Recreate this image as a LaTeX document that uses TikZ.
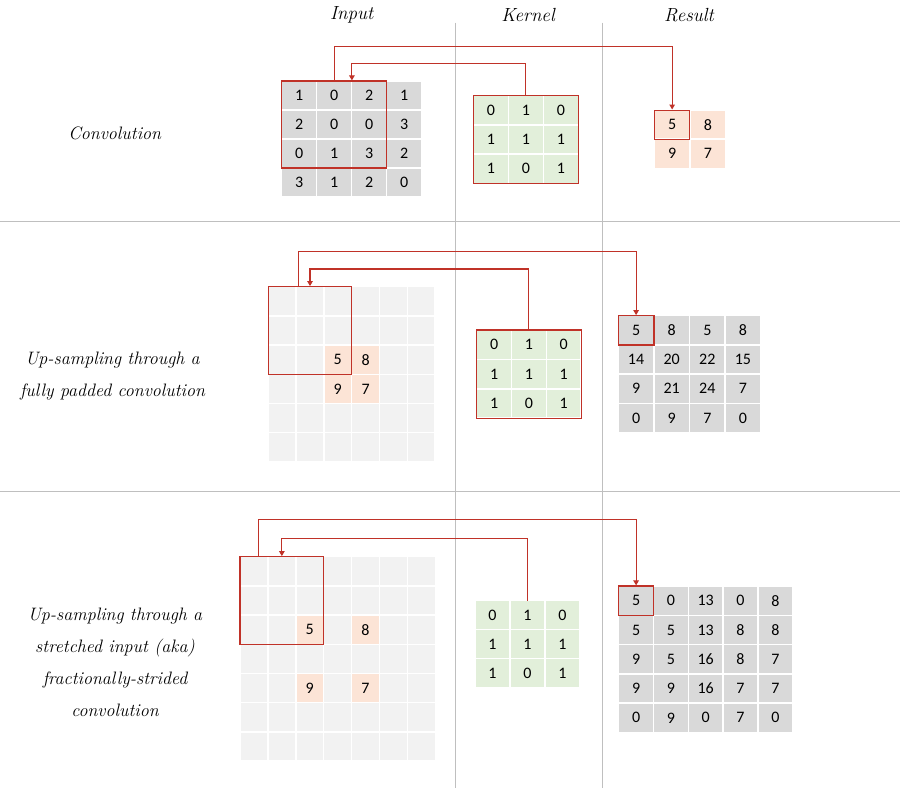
\documentclass[tikz,border=0pt]{standalone}
\usepackage{fontspec}
\newfontfamily\cellfont{Carlito}
\usetikzlibrary{arrows.meta,calc,fit}
\definecolor{ingray}{RGB}{217,217,217}
\definecolor{padgray}{RGB}{242,242,242}
\definecolor{kerngreen}{RGB}{226,239,218}
\definecolor{uporange}{RGB}{252,228,214}
\definecolor{convred}{RGB}{192,50,40}
\definecolor{sepgray}{RGB}{191,191,191}
\tikzset{
  cell/.style={rectangle,draw=white,line width=1.5pt,inner sep=0pt,outer sep=0pt,
    minimum width=35pt,minimum height=29pt,font=\cellfont\fontsize{16}{19}\selectfont},
  incell/.style={cell,fill=ingray},
  padcell/.style={cell,fill=padgray,minimum width=27.8pt,minimum height=29.2pt},
  upcell/.style={cell,fill=uporange,minimum width=27.8pt,minimum height=29.2pt},
  kerncell/.style={cell,fill=kerngreen},
  rescell/.style={cell,fill=uporange},
  window/.style={rectangle,draw=convred,line width=1.2pt,inner sep=0pt},
  conn/.style={draw=convred,line width=1.1pt,->},
  sep/.style={draw=sepgray,line width=0.9pt},
  caption/.style={font=\itshape\fontsize{18}{32}\selectfont,align=center},
  header/.style={font=\itshape\fontsize{19}{23}\selectfont}
}
\begin{document}
\begin{tikzpicture}[x=1pt,y=-1pt,>={Triangle[length=5pt,width=5.5pt]}]
\useasboundingbox (0,0) rectangle (900,788);
% separators
\draw[sep] (0,221.3) -- (900,221.3);
\draw[sep] (0,491.3) -- (900,491.3);
\draw[sep] (455.7,22.7) -- (455.7,788);
\draw[sep] (602.7,22.7) -- (602.7,788);
% headers
\node[header] (hinput) at (351.7,15) {Input};
\node[header] (hkernel) at (528,15) {Kernel};
\node[header] (hresult) at (689,15) {Result};
% row labels
\node[caption] (lconv) at (114.7,133) {Convolution};
\node[caption] (lfull) at (112.5,376) {Up-sampling through a\\fully padded convolution};
\node[caption] (lfrac) at (115,662.5) {Up-sampling through a\\stretched input (aka)\\fractionally-strided\\convolution};
% --- convolution
\foreach \row [count=\r] in {{1,0,2,1},{2,0,0,3},{0,1,3,2},{3,1,2,0}}
  \foreach \v [count=\c] in \row
    \node[incell] (in1-\r-\c) at ({281.7+(\c-0.5)*35},{81+(\r-0.5)*29}) {\v};
\foreach \row [count=\r] in {{0,1,0},{1,1,1},{1,0,1}}
  \foreach \v [count=\c] in \row
    \node[kerncell,minimum height=29.2pt] (ke1-\r-\c) at ({473.3+(\c-0.5)*35},{95.7+(\r-0.5)*29.2}) {\v};
\foreach \row [count=\r] in {{5,8},{9,7}}
  \foreach \v [count=\c] in \row
    \node[rescell] (re1-\r-\c) at ({654.3+(\c-0.5)*35.7},{110+(\r-0.5)*29.2}) {\v};
\node[window,fit=(in1-1-1)(in1-3-3)] (win1) {};
\node[window,fit=(ke1-1-1)(ke1-3-3)] (kbox1) {};
\node[window,fit=(re1-1-1)] (rwin1) {};
\coordinate (lvo1) at (0,46.7);
\coordinate (lvi1) at (0,63.3);
\coordinate (tgt1) at ($(win1.north west)!2/3!(win1.north east)$);
\draw[conn] (win1.north) -- (win1.north |- lvo1) -| (rwin1.north);
\draw[conn] (kbox1.north) -- (kbox1.north |- lvi1) -| (tgt1);
% --- fully padded
\foreach \r in {1,...,6}
  \foreach \c in {1,...,6}
    \node[padcell] (in2-\r-\c) at ({268.3+(\c-0.5)*27.8},{286.7+(\r-0.5)*29.2}) {};
\foreach \v/\r/\c in {5/3/3,8/3/4,9/4/3,7/4/4}
  \node[upcell] (up2-\r-\c) at ({268.3+(\c-0.5)*27.8},{286.7+(\r-0.5)*29.2}) {\v};
\foreach \row [count=\r] in {{0,1,0},{1,1,1},{1,0,1}}
  \foreach \v [count=\c] in \row
    \node[kerncell,minimum width=34.8pt,minimum height=29.4pt] (ke2-\r-\c) at ({476.7+(\c-0.5)*34.8},{330+(\r-0.5)*29.4}) {\v};
\foreach \row [count=\r] in {{5,8,5,8},{14,20,22,15},{9,21,24,7},{0,9,7,0}}
  \foreach \v [count=\c] in \row
    \node[incell,minimum width=35.6pt,minimum height=29.2pt] (re2-\r-\c) at ({618.3+(\c-0.5)*35.6},{315.7+(\r-0.5)*29.2}) {\v};
\node[window,fit=(in2-1-1)(in2-3-3)] (win2) {};
\node[window,fit=(ke2-1-1)(ke2-3-3)] (kbox2) {};
\node[window,fit=(re2-1-1)] (rwin2) {};
\coordinate (lvo2) at (0,251.7);
\coordinate (lvi2) at (0,269);
\coordinate (src2) at ($(win2.north west)+(31,0)$);
\draw[conn] (src2) -- (src2 |- lvo2) -| (rwin2.north);
\draw[conn] (kbox2.north) -- (kbox2.north |- lvi2) -| (win2.north);
% --- fractionally strided
\foreach \r in {1,...,7}
  \foreach \c in {1,...,7}
    \node[padcell,minimum width=27.9pt] (in3-\r-\c) at ({240+(\c-0.5)*27.9},{556.7+(\r-0.5)*29.2}) {};
\foreach \v/\r/\c in {5/3/3,8/3/5,9/5/3,7/5/5}
  \node[upcell,minimum width=27.9pt] (up3-\r-\c) at ({240+(\c-0.5)*27.9},{556.7+(\r-0.5)*29.2}) {\v};
\foreach \row [count=\r] in {{0,1,0},{1,1,1},{1,0,1}}
  \foreach \v [count=\c] in \row
    \node[kerncell] (ke3-\r-\c) at ({475+(\c-0.5)*35},{600.7+(\r-0.5)*29}) {\v};
\foreach \row [count=\r] in {{5,0,13,0,8},{5,5,13,8,8},{9,5,16,8,7},{9,9,16,7,7},{0,9,0,7,0}}
  \foreach \v [count=\c] in \row
    \node[incell,minimum width=34.8pt,minimum height=29.3pt] (re3-\r-\c) at ({618.7+(\c-0.5)*34.8},{586+(\r-0.5)*29.3}) {\v};
\node[window,fit=(in3-1-1)(in3-3-3)] (win3) {};
\node[inner sep=0pt,fit=(ke3-1-1)(ke3-3-3)] (kbox3) {};
\node[window,fit=(re3-1-1)] (rwin3) {};
\coordinate (lvo3) at (0,519.3);
\coordinate (lvi3) at (0,538.7);
\coordinate (src3) at ($(win3.north west)+(19.3,0)$);
\draw[conn] (src3) -- (src3 |- lvo3) -| (rwin3.north);
\draw[conn] (kbox3.north) -- (kbox3.north |- lvi3) -| (win3.north);
\end{tikzpicture}
\end{document}
